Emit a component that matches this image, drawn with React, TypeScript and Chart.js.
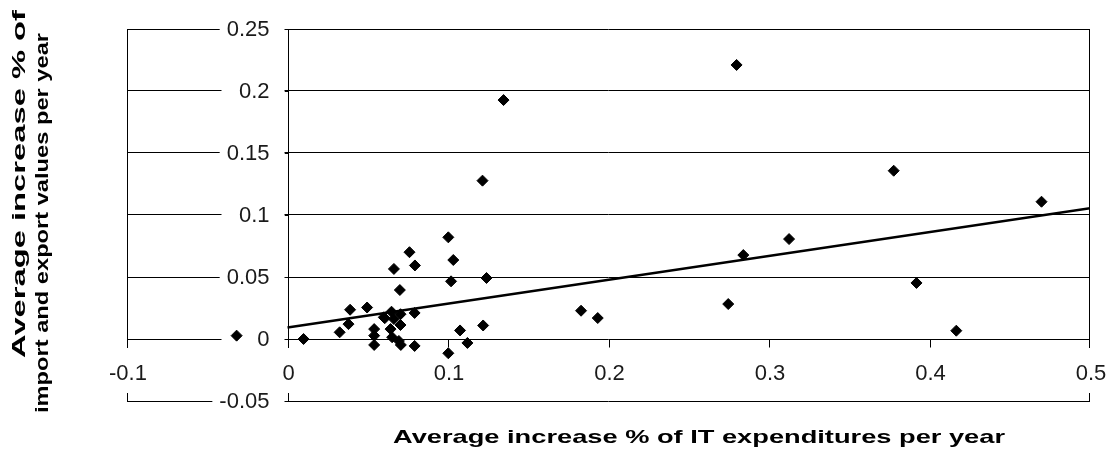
import React, { useEffect, useRef } from "react";
import { Chart, registerables } from "chart.js";

Chart.register(...registerables);

// ---- data ----
const xValues = [
  0.010, 0.0325, 0.038, 0.039, 0.0496, 0.054, 0.054, 0.054, 0.060, 0.0606,
  0.0648, 0.0663, 0.0642, 0.0652, 0.0663, 0.070, 0.0704, 0.0704, 0.0694, 0.0706,
  0.076, 0.0794, 0.0792, 0.0792, 0.1002, 0.1002, 0.1033, 0.1019, 0.1075, 0.1121,
  0.1219, 0.124, 0.1215, 0.1346, 0.1829, 0.1933, 0.2746, 0.284, 0.2798, 0.3125,
  0.3777, 0.3919, 0.4167, 0.4698, -0.0317,
];
const yValues = [
  0.000, 0.0054, 0.012, 0.0236, 0.0254, -0.0048, 0.008, 0.0027, 0.0175, 0.0168,
  0.022, 0.0161, 0.008, 0.0014, 0.0565, 0.0395, 0.020, 0.0113, -0.0016, -0.0048,
  0.070, 0.0593, 0.021, -0.0056, 0.082, -0.0115, 0.0637, 0.0465, 0.0069, -0.0032,
  0.0109, 0.0492, 0.1277, 0.1927, 0.0228, 0.0169, 0.0282, 0.0677, 0.221, 0.0806,
  0.1357, 0.0452, 0.0067, 0.1107, 0.0027,
];
const trendX = [0, 0.5];
const trendY = [0.0092, 0.1054];

const xTickValues = [-0.1, 0, 0.1, 0.2, 0.3, 0.4, 0.5];
const xTickLabels = ["-0.1", "0", "0.1", "0.2", "0.3", "0.4", "0.5"];
const yTickValues = [0.25, 0.2, 0.15, 0.1, 0.05, 0, -0.05];
const yTickLabels = ["0.25", "0.2", "0.15", "0.1", "0.05", "0", "-0.05"];

const xTitle = "Average increase % of IT expenditures per year";
const yTitleLines = ["Average increase % of", "import and export values per year"];

const TICK_FONT = '22px "Liberation Sans", Arial, sans-serif';
const TITLE_FONT = 'bold 19px "Liberation Sans", Arial, sans-serif';

function fitText(
  ctx: CanvasRenderingContext2D,
  text: string,
  cx: number,
  baseY: number,
  width: number,
  rotate: boolean
) {
  ctx.save();
  ctx.font = TITLE_FONT;
  const w = ctx.measureText(text).width;
  ctx.translate(cx, baseY);
  if (rotate) ctx.rotate(-Math.PI / 2);
  ctx.scale(width / w, 1);
  ctx.textAlign = "center";
  ctx.textBaseline = "alphabetic";
  ctx.fillStyle = "#000";
  ctx.fillText(text, 0, 0);
  ctx.restore();
}

const excelAxes = {
  id: "excelAxes",
  beforeDatasetsDraw(chart: any) {
    const ctx: CanvasRenderingContext2D = chart.ctx;
    const xs = chart.scales.x;
    const ys = chart.scales.y;
    const { left, right, top, bottom } = chart.chartArea;
    const px = (v: number) => Math.round(xs.getPixelForValue(v)) + 0.5;
    const py = (v: number) => Math.round(ys.getPixelForValue(v)) + 0.5;
    const L = Math.round(left) + 0.5;
    const R = Math.round(right) - 0.5;
    const T = Math.round(top);
    const B = Math.round(bottom) + 1;
    const x0 = px(0);
    const y0 = py(0);

    ctx.save();
    ctx.strokeStyle = "#000";
    ctx.lineWidth = 1;
    ctx.beginPath();
    [L, x0, R].forEach((xp) => {
      ctx.moveTo(xp, T);
      ctx.lineTo(xp, B);
    });
    yTickValues.forEach((v) => {
      const yp = py(v);
      ctx.moveTo(x0 - 4, yp);
      ctx.lineTo(x0, yp);
    });
    xTickValues.forEach((v, i) => {
      let xp = px(v);
      if (i === 0) xp = L;
      if (i === xTickValues.length - 1) xp = R;
      ctx.moveTo(xp, y0);
      ctx.lineTo(xp, y0 + 8);
    });
    ctx.stroke();

    // band holding the category axis labels
    ctx.fillStyle = "#fff";
    const bandTop = y0 + 8.5;
    const bandBottom = py(-0.05) - 8.5;
    ctx.fillRect(left - 6, bandTop, right - left + 12, bandBottom - bandTop);

    // gaps for value axis labels
    ctx.font = TICK_FONT;
    const labelRight = x0 - 19;
    yTickValues.forEach((v, i) => {
      const yp = py(v);
      const w = ctx.measureText(yTickLabels[i]).width;
      const gapLeft = Math.min(x0 - 67, labelRight - w - 7);
      ctx.fillRect(gapLeft, yp - 2, x0 - 4 - gapLeft, 4);
    });

    ctx.fillStyle = "#1a1a1a";
    ctx.textBaseline = "middle";
    ctx.textAlign = "right";
    yTickValues.forEach((v, i) => {
      ctx.fillText(yTickLabels[i], labelRight, py(v) + 0.5);
    });
    ctx.textAlign = "center";
    xTickValues.forEach((v, i) => {
      ctx.fillText(xTickLabels[i], xs.getPixelForValue(v) + 1, y0 + 34.5);
    });

    fitText(ctx, xTitle, 699, 443, 612, false);
    fitText(ctx, yTitleLines[0], 25, 184, 348, true);
    fitText(ctx, yTitleLines[1], 48, 223, 380, true);
    ctx.restore();
  },
};

export default function App() {
  const ref = useRef<HTMLCanvasElement | null>(null);

  useEffect(() => {
    if (!ref.current) return;
    const points = xValues.map((x, i) => ({ x, y: yValues[i] }));
    const trend = trendX.map((x, i) => ({ x, y: trendY[i] }));
    const chart = new Chart(ref.current, {
      type: "scatter",
      data: {
        datasets: [
          {
            label: "Countries",
            data: points,
            pointStyle: "rectRot",
            pointRadius: 5.5,
            pointBackgroundColor: "#000",
            pointBorderColor: "#000",
            pointBorderWidth: 1,
            showLine: false,
          },
          {
            label: "Trend",
            data: trend,
            showLine: true,
            borderColor: "#000",
            borderWidth: 2.5,
            pointRadius: 0,
            fill: false,
          },
        ],
      },
      options: {
        responsive: false,
        maintainAspectRatio: false,
        animation: false,
        events: [],
        layout: { padding: { left: 127, right: 16, top: 29, bottom: 51 } },
        plugins: {
          legend: { display: false },
          tooltip: { enabled: false },
          title: { display: false },
        },
        scales: {
          x: {
            type: "linear",
            min: -0.1,
            max: 0.5,
            grid: { display: false, drawTicks: false },
            border: { display: false },
            ticks: { display: false },
            afterBuildTicks: (s: any) => {
              s.ticks = xTickValues.map((value) => ({ value }));
            },
          },
          y: {
            type: "linear",
            min: -0.05,
            max: 0.25,
            grid: { color: "#000", lineWidth: 1, drawTicks: false },
            border: { display: false },
            ticks: { display: false },
            afterBuildTicks: (s: any) => {
              s.ticks = yTickValues.map((value) => ({ value }));
            },
          },
        },
      },
      plugins: [excelAxes],
    } as any);
    return () => chart.destroy();
  }, []);

  return (
    <div style={{ position: "fixed", left: 0, top: 0, width: 1106, height: 452, background: "#fff" }}>
      <canvas ref={ref} width={1106} height={452} style={{ display: "block" }} />
    </div>
  );
}
